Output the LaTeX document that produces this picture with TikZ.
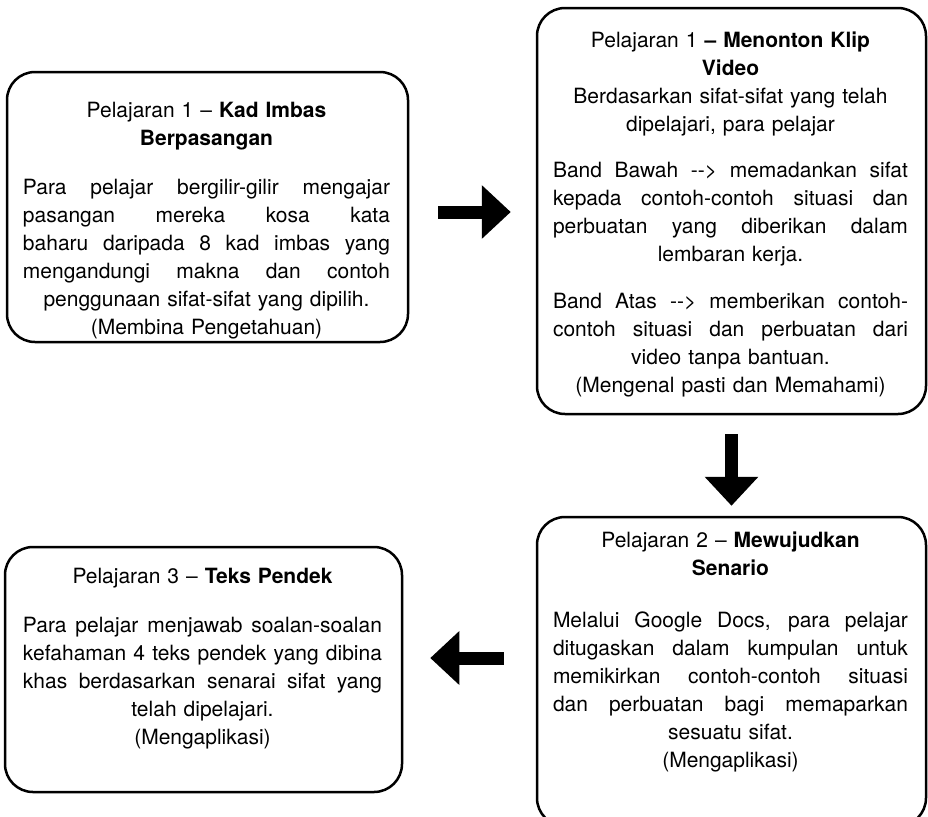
\documentclass[tikz,border=0pt]{standalone}
\usepackage{fontspec}
\setmainfont{TeX Gyre Heros}
\usetikzlibrary{arrows.meta}
\newcommand{\spreadline}[1]{\leavevmode\hbox to \hsize{\spaceskip=0.28em plus 1fil\relax #1}}

\begin{document}
\begin{tikzpicture}[x=0.5pt, y=-0.5pt]
    \tikzset{lesson/.style = {draw, line width=1.25pt, rounded corners=14pt, inner sep=0pt}}
    \tikzset{lessontext/.style = {anchor=base, align=center, inner sep=0pt, font=\fontsize{10.5pt}{14pt}\selectfont}}
    \tikzset{bigarrow/.style = {-{Triangle[length=14.5pt, width=26pt]}, line width=6.5pt}}

    \useasboundingbox (0,0) rectangle (928,816);

    % boxes
    \node[lesson, minimum width=200.5pt, minimum height=135pt] (p1) at (207.5,207) {};
    \node[lesson, minimum width=194.5pt, minimum height=203pt] (p2) at (731.5,211) {};
    \node[lesson, minimum width=194.5pt, minimum height=154.5pt] (p3) at (731.5,671.5) {};
    \node[lesson, minimum width=198.5pt, minimum height=122.5pt] (p4) at (203.5,669.5) {};

    % texts
    \node[lessontext, text width=183.5pt] (t1) at (206.5,117) {Pelajaran 1 – \textbf{Kad Imbas}\\
        \textbf{Berpasangan}\\[10.5pt]
        \spreadline{Para pelajar bergilir-gilir mengajar}\\
        \spreadline{pasangan mereka kosa kata}\\
        \spreadline{baharu daripada 8 kad imbas yang}\\
        \spreadline{mengandungi makna dan contoh}\\
        penggunaan sifat-sifat yang dipilih.\\
        (Membina Pengetahuan)};
    \node[lessontext, text width=177.5pt] (t2) at (730.5,47) {Pelajaran 1 \textbf{– Menonton Klip}\\
        \textbf{Video}\\
        Berdasarkan sifat-sifat yang telah\\
        dipelajari, para pelajar\\[9pt]
        \spreadline{Band Bawah -{}-> memadankan sifat}\\
        \spreadline{kepada contoh-contoh situasi dan}\\
        \spreadline{perbuatan yang diberikan dalam}\\
        lembaran kerja.\\[9.5pt]
        \spreadline{Band Atas -{}-> memberikan contoh-}\\
        \spreadline{contoh situasi dan perbuatan dari}\\
        video tanpa bantuan.\\
        (Mengenal pasti dan Memahami)};
    \node[lessontext, text width=177.5pt] (t3) at (730.5,547) {Pelajaran 2 – \textbf{Mewujudkan}\\
        \textbf{Senario}\\[12pt]
        \spreadline{Melalui Google Docs, para pelajar}\\
        \spreadline{ditugaskan dalam kumpulan untuk}\\
        \spreadline{memikirkan contoh-contoh situasi}\\
        \spreadline{dan perbuatan bagi memaparkan}\\
        sesuatu sifat.\\
        (Mengaplikasi)};
    \node[lessontext, text width=179.5pt] (t4) at (202.5,583) {Pelajaran 3 – \textbf{Teks Pendek}\\[10.5pt]
        \spreadline{Para pelajar menjawab soalan-soalan}\\
        \spreadline{kefahaman 4 teks pendek yang dibina}\\
        \spreadline{khas berdasarkan senarai sifat yang}\\
        telah dipelajari.\\
        (Mengaplikasi)};

    % arrows
    \draw[bigarrow, shorten <=14.5pt, shorten >=12.5pt] ([yshift=-2.5pt]p1.east) -- ([yshift=-2.5pt]p1.east -| p2.west);
    \draw[bigarrow, shorten <=9.5pt, shorten >=5pt] (p2.south) -- (p3.north);
    \draw[bigarrow, shorten <=16pt, shorten >=13.5pt] ([yshift=6.75pt]p3.west) -- ([yshift=6.75pt]p3.west -| p4.east);
\end{tikzpicture}
\end{document}
